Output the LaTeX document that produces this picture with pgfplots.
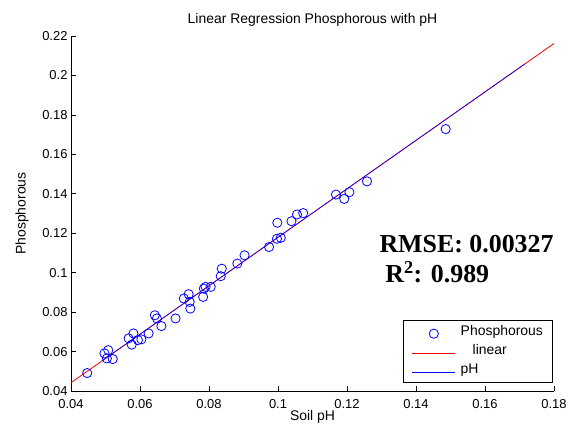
\documentclass[border=0pt]{standalone}
\usepackage{fontspec}
\setmainfont{Liberation Sans}
\newfontfamily\timesfont{Liberation Serif}
\usepackage{pgfplots}
\pgfplotsset{compat=1.18}

\begin{document}
\begin{tikzpicture}
\begin{axis}[
  scale only axis,
  width=483bp, height=355bp,
  at={(0,0)}, anchor=south west,
  xmin=0.04, xmax=0.18,
  ymin=0.04, ymax=0.22,
  xtick={0.04,0.06,0.08,0.1,0.12,0.14,0.16,0.18},
  ytick={0.04,0.06,0.08,0.1,0.12,0.14,0.16,0.18,0.2,0.22},
  axis lines*=left,
  axis line style={black, line width=0.8bp},
  tick align=inside,
  major tick length=5bp,
  tick style={black, line width=0.6bp},
  scaled ticks=false,
  tick label style={font=\fontsize{13}{15}\selectfont,
    /pgf/number format/fixed, /pgf/number format/precision=2,
    /pgf/number format/assume math mode=true},
  xticklabel style={yshift=-5bp},
  title={Linear Regression Phosphorous with pH},
  title style={at={(axis description cs:0.5,1.028)}, anchor=center, font=\fontsize{14}{16}\selectfont},
  xlabel={Soil pH},
  xlabel style={at={(axis description cs:0.5,-0.0732)}, anchor=center, font=\fontsize{14}{16}\selectfont},
  ylabel={Phosphorous},
  ylabel style={at={(axis description cs:-0.1014,0.5)}, anchor=center, rotate=0, font=\fontsize{14}{16}\selectfont},
  legend style={
    at={(axis description cs:0.9965,0.0245)}, anchor=south east,
    draw=black, line width=0.8bp, fill=white,
    inner xsep=9bp, inner ysep=5bp,
    font=\fontsize{14}{16}\selectfont,
    row sep=6.3bp,
    nodes={inner sep=0bp, text height=10bp, text depth=3bp},
    /tikz/every odd column/.append style={column sep=5bp},
  },
  legend cell align=left,
  legend image code/.code={%
    \draw[mark repeat=2,mark phase=2,#1]
      plot coordinates {(0bp,-2bp) (21.5bp,-2bp) (43bp,-2bp)};},
  clip=false,
]
% measured points
\addplot[only marks, mark=o, mark size=4.6bp, blue,
  mark options={draw=blue, line width=0.8bp}] coordinates {
  (0.0447,0.0491) (0.0497,0.0591) (0.0508,0.0607) (0.0504,0.0565)
  (0.0521,0.0562) (0.0567,0.0667) (0.0581,0.0692) (0.0576,0.0635)
  (0.0594,0.0658) (0.0604,0.0662) (0.0625,0.0692) (0.0643,0.0784)
  (0.0649,0.0768) (0.0662,0.0729) (0.0703,0.0768) (0.0727,0.0869)
  (0.0741,0.0891) (0.0746,0.0818) (0.0744,0.0852) (0.0783,0.0877)
  (0.0785,0.0919) (0.0790,0.0928) (0.0805,0.0928) (0.0834,0.0982)
  (0.0837,0.1020) (0.0882,0.1046) (0.0903,0.1088) (0.0974,0.1130)
  (0.0997,0.1172) (0.1008,0.1177) (0.0998,0.1253) (0.1039,0.1261)
  (0.1055,0.1295) (0.1073,0.1302) (0.1168,0.1396) (0.1192,0.1374)
  (0.1207,0.1408) (0.1258,0.1463) (0.1486,0.1728)
};
\addlegendentry{Phosphorous}
\addplot[red, line width=0.8bp] coordinates {(0.04,0.0442) (0.18,0.2162)};
\addlegendentry{\hspace{12bp}linear}
\addplot[blue, line width=0.6bp] coordinates {(0.049,0.0553) (0.1715,0.2058)};
\addlegendentry{pH}
\node[anchor=base west, font=\timesfont\bfseries\fontsize{26}{30}\selectfont]
  at (axis cs:0.1284,0.110) {RMSE: 0.00327};
\node[anchor=base west, font=\timesfont\bfseries\fontsize{26}{30}\selectfont]
  at (axis cs:0.1301,0.0948) {R\textsuperscript{2}: 0.989};
\end{axis}
\pgfresetboundingbox
\path[use as bounding box] (-71bp,-34bp) rectangle (505bp,391bp);
\end{tikzpicture}
\end{document}
